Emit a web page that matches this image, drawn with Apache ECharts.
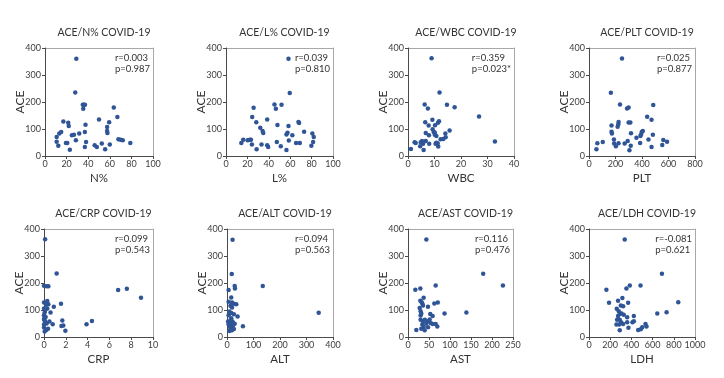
<!DOCTYPE html>
<html><head><meta charset="utf-8">
<script src="https://cdn.jsdelivr.net/npm/echarts@6/dist/echarts.min.js"></script>
<style>html,body{margin:0;padding:0;background:#fff}#c{width:724px;height:378px}</style>
</head><body><div id="c"></div>
<script>
// ---- data ----
const titles = ['ACE/N% COVID-19','ACE/L% COVID-19','ACE/WBC COVID-19','ACE/PLT COVID-19',
                'ACE/CRP COVID-19','ACE/ALT COVID-19','ACE/AST COVID-19','ACE/LDH COVID-19'];
const xNames = ['N%','L%','WBC','PLT','CRP','ALT','AST','LDH'];
const rTexts = ['r=0.003','r=0.039','r=0.359','r=0.025','r=0.099','r=0.094','r=0.116','r=-0.081'];
const pTexts = ['p=0.987','p=0.810','p=0.023*','p=0.877','p=0.543','p=0.563','p=0.476','p=0.621'];
const xMax = [100,100,40,800,10,400,250,1000];
const xStep = [20,20,10,200,2,100,50,200];
const yTicks = [0,100,200,300,400];

const nPctData = [[29,360],[28,235],[35,190],[36,190],[37,190],[35.4,175],[17,128],[21.5,123],[22,111],[37.5,116],
  [50,135],[63.7,180],[67,144],[59.4,125],[57.5,107],[57.5,93],[57.8,85],[10.8,70],[13.2,83],[15,89],
  [10.8,53],[19.4,48],[20.6,48],[12.3,38],[23,23],[24.9,77],[26.8,79],[28.6,58],[31.7,83],[36.9,89],
  [38,52],[36.9,33],[46,40],[48,33],[52.6,46],[55.7,25],[60,43],[68,62],[70,60],[72,58],[79,48]];
const lPctData = [[58.4,360],[59.6,233],[45.3,191],[51.9,190],[46.6,175],[25.8,179],[24.5,144],[38.5,135],[28.3,125],[67.7,126],
  [68.3,122],[48.1,115],[58.4,111],[32,105],[34.2,93],[34.8,85],[73,90],[80.7,83],[57.5,86],[56.5,80],
  [62,77],[16.1,60],[20.2,58],[22.4,60],[23.3,60],[14.3,48],[24.2,43],[33.2,43],[38.5,40],[39.4,33],
  [47.5,52],[51.2,36],[56.5,22],[28.6,25],[58.7,57],[65.5,48],[69,48],[81.4,52],[82,70],[79.8,38]];
const wbcData = [[8.9,362],[11.9,235],[6.3,191],[7.5,176],[14.7,190],[17.6,181],[26.8,146],[32.8,54],[9.2,134],[6.5,125],
  [11.7,129],[11.3,123],[10.2,114],[7.8,113],[9.3,99],[9.7,89],[10.1,87],[10.1,79],[10.7,74],[6.7,85],
  [7.9,77],[15.7,94],[14.1,83],[14.2,69],[13.3,63],[12.3,62],[6.7,56],[5.3,56],[4.8,51],[5.7,45],
  [2.9,48],[2.5,51],[5.9,22],[1.1,26],[8,45],[10.7,49],[11.2,47],[11.4,35],[10.4,45],[4.6,36]];
const pltData = [[249,361],[165,234],[234,191],[287,176],[299,180],[485,189],[439,145],[472,134],[170,113],[223,126],
  [221,118],[216,108],[299,124],[312,124],[170,90],[173,83],[317,84],[398,89],[406,93],[393,80],
  [388,74],[482,79],[358,68],[188,61],[223,47],[190,46],[203,36],[269,46],[292,56],[315,38],
  [305,21],[386,48],[449,61],[472,33],[553,41],[561,59],[589,53],[104,52],[63,47],[56,25]];
const crpData = [[0.1,362],[1.16,235],[0,190],[0.24,188],[0.4,188],[6.8,174],[7.6,179],[8.9,145],[0,128],[0.3,133],
  [0.4,121],[0.2,119],[0.9,112],[1.56,123],[0,106],[0.3,106],[0.06,91],[0.6,91],[0,81],[0.15,74],
  [0,67],[0.1,57],[0,46],[0.24,50],[0.5,57],[0.8,47],[1.68,61],[1.77,43],[1.6,41],[1.96,23],
  [3.9,47],[4.4,59],[0,35],[0.2,26],[0.37,31],[0.06,20],[0.1,99],[0.05,62]];
const altData = [[21,360],[18,233],[135,189],[29,189],[30,180],[346,90],[6,174],[16,146],[6,131],[19,128],
  [26,123],[35,121],[13,116],[19,109],[9,94],[16,89],[26,84],[40,76],[6,81],[16,69],
  [4,57],[13,54],[21,57],[6,47],[19,47],[29,49],[11,37],[21,37],[60,40],[9,22],
  [19,25],[26,30],[14,63],[23,44],[17,52]];
const astData = [[43.7,361],[179,234],[226,191],[65.9,191],[17.5,175],[29.4,180],[37.3,145],[29.4,134],[32.5,129],[34,124],
  [35.7,117],[71,128],[62.7,124],[47.6,112],[27.8,107],[30,95],[31.7,87],[30,80],[53,85],[58.7,78],
  [87,87],[139,91],[30,64],[35.7,58],[40,64],[47.6,58],[51.6,65],[54,52],[43.7,50],[34,46],
  [37.3,38],[31.7,31],[19.8,26],[47.6,36],[39.7,25],[66,48],[69.8,39],[58.7,48]];
const ldhData = [[337,361],[688,234],[486,191],[385,191],[164,175],[353,180],[189,127],[315,144],[274,134],[369,127],
  [300,117],[322,114],[262,105],[842,129],[732,92],[644,87],[306,87],[328,82],[281,95],[290,85],
  [274,78],[360,73],[423,78],[265,64],[290,64],[303,55],[322,48],[360,55],[410,55],[372,34],
  [259,46],[284,46],[290,25],[464,26],[502,36],[489,29],[533,48],[543,39],[423,58]];
const panelData = [nPctData,lPctData,wbcData,pltData,crpData,altData,astData,ldhData];

// ---- layout ----
const W = 724;
const gridBoxes = [
  [45,48,108,108],[226,48,107,108],[408,48,106,108],[589,48,106,108],
  [44,229,109,108],[227,229,106,108],[408,229,105,108],[589,229,106,108]];
const FONT = 'Lato';
const axisCol = '#4a4a4a', labCol = '#404040', dotCol = '#2F5597', boxCol = '#a8a8a8';

const option = {animation:false, textStyle:{fontFamily:FONT}, title:[], grid:[], xAxis:[], yAxis:[], series:[], graphic:[]};
gridBoxes.forEach((g,i)=>{
  const [l,t,w,h] = g;
  option.grid.push({left:l, top:t, width:w, height:h});
  option.title.push({text:titles[i], left:l+w/2, top:t-26, textAlign:'center',
    textStyle:{fontFamily:FONT, fontSize:10.5, fontWeight:'normal', color:'#333'}});
  option.xAxis.push({type:'value', gridIndex:i, min:0, max:xMax[i], interval:xStep[i], position:'bottom',
    name:xNames[i], nameLocation:'middle', nameGap:16, nameMoveOverlap:false,
    nameTextStyle:{fontFamily:FONT, fontSize:11.5, color:'#333'},
    axisLine:{show:true, onZero:false, lineStyle:{color:axisCol, width:1}},
    axisTick:{show:true, length:3, lineStyle:{color:axisCol}},
    axisLabel:{fontFamily:FONT, fontSize:9, color:labCol, margin:4, formatter:v=>String(v)},
    splitLine:{show:false}, z:3});
  option.yAxis.push({type:'value', gridIndex:i, min:yTicks[0], max:yTicks[yTicks.length-1], interval:100, position:'left',
    name:'ACE', nameLocation:'middle', nameGap:19, nameMoveOverlap:false,
    nameTextStyle:{fontFamily:FONT, fontSize:12, color:'#333'},
    axisLine:{show:true, onZero:false, lineStyle:{color:axisCol, width:1}},
    axisTick:{show:true, length:3, lineStyle:{color:axisCol}},
    axisLabel:{fontFamily:FONT, fontSize:9, color:labCol, margin:4},
    splitLine:{show:false}, z:3});
});
// light frame on the top and right side of every panel
gridBoxes.forEach((g,i)=>{
  option.xAxis.push({type:'value', gridIndex:i, min:0, max:xMax[i], position:'top',
    axisLine:{show:true, onZero:false, lineStyle:{color:boxCol, width:1}}, axisTick:{show:false},
    axisLabel:{show:false}, splitLine:{show:false}, z:1});
  option.yAxis.push({type:'value', gridIndex:i, min:0, max:400, position:'right',
    axisLine:{show:true, onZero:false, lineStyle:{color:boxCol, width:1}}, axisTick:{show:false},
    axisLabel:{show:false}, splitLine:{show:false}, z:1});
});
gridBoxes.forEach((g,i)=>{
  const [l,t,w,h] = g;
  option.series.push({type:'scatter', xAxisIndex:i, yAxisIndex:i, data:panelData[i],
    symbolSize:4.5, itemStyle:{color:dotCol, opacity:1}, z:5});
  option.graphic.push({type:'text', right:W-(l+w-3), top:t+4, style:{text:rTexts[i]+'\n'+pTexts[i], align:'right',
    fontFamily:FONT, fontSize:9.5, lineHeight:11, fill:'#333'}});
});
const chart = echarts.init(document.getElementById('c'), null, {renderer:'canvas'});
chart.setOption(option);
</script></body></html>
